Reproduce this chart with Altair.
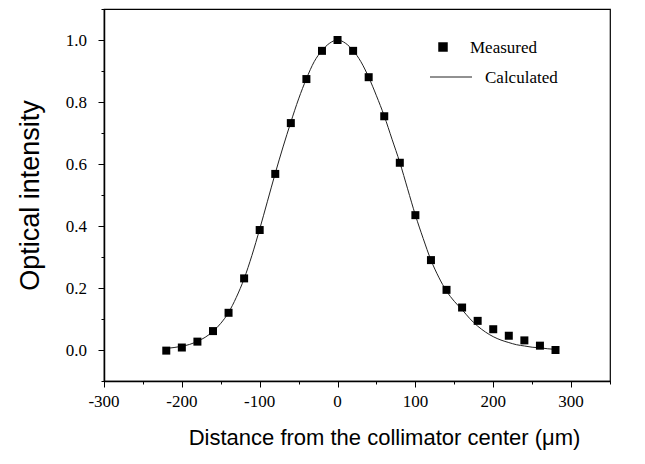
import altair as alt
import pandas as pd

# Measured points
meas_x = [-220, -200, -180, -160, -140, -120, -100, -80, -60, -40, -20, 0,
          20, 40, 60, 80, 100, 120, 140, 160, 180, 200, 220, 240, 260, 280]
meas_y = [-0.002, 0.008, 0.027, 0.061, 0.12, 0.231, 0.387, 0.568, 0.732, 0.874, 0.965, 1.0,
          0.965, 0.88, 0.754, 0.604, 0.435, 0.29, 0.194, 0.137, 0.094, 0.067, 0.046, 0.031, 0.014, 0.0]

# Calculated curve
calc_x = [-220, -210, -200, -190, -180, -170, -160, -150, -140, -130, -120, -110, -100,
          -90, -80, -70, -60, -50, -40, -30, -20, -10, 0, 10, 20, 30, 40, 50, 60, 70,
          80, 90, 100, 110, 120, 130, 140, 150, 160, 170, 180, 190, 200, 210, 220, 230,
          240, 250, 260, 270, 280]
calc_y = [0.005, 0.008, 0.012, 0.018, 0.028, 0.041, 0.06, 0.086, 0.121, 0.17, 0.23, 0.305, 0.39,
          0.48, 0.57, 0.655, 0.735, 0.81, 0.875, 0.93, 0.966, 0.99, 1.0, 0.99, 0.966, 0.93, 0.88, 0.82,
          0.755, 0.68, 0.605, 0.52, 0.435, 0.36, 0.29, 0.235, 0.19, 0.157, 0.13, 0.101, 0.077, 0.058,
          0.043, 0.032, 0.024, 0.017, 0.013, 0.009, 0.007, 0.004, 0.002]

x_major = [-300, -200, -100, 0, 100, 200, 300]
x_labels = ["-300", "-200", "-100", "0", "100", "200", "300"]
x_minor = [-300, -250, -200, -150, -100, -50, 0, 50, 100, 150, 200, 250, 300, 350]
y_major = [0.0, 0.2, 0.4, 0.6, 0.8, 1.0]
y_labels = ["0.0", "0.2", "0.4", "0.6", "0.8", "1.0"]
y_minor = [-0.1, 0.0, 0.1, 0.2, 0.3, 0.4, 0.5, 0.6, 0.7, 0.8, 0.9, 1.0, 1.1]

legend_labels = ["Measured", "Calculated"]

meas = pd.DataFrame({"x": meas_x, "y": meas_y})
calc = pd.DataFrame({"x": calc_x, "y": calc_y})
xlab = pd.DataFrame({"v": x_major, "t": x_labels})
ylab = pd.DataFrame({"v": y_major, "t": y_labels})

xscale = alt.Scale(domain=[-300, 350], nice=False, zero=False)
yscale = alt.Scale(domain=[-0.1, 1.1], nice=False, zero=False)

serif = "Liberation Serif"
sans = "Liberation Sans"

xaxis = alt.Axis(
    orient="bottom",
    values=x_major, tickSize=6, labels=False,
    grid=False, domainColor="black", domainWidth=1.5, tickColor="black", tickWidth=1,
    title="Distance from the collimator center (\u03bcm)",
    titleFont=sans, titleFontSize=22, titleFontWeight="normal", titleColor="black",
    titleX=280, titleY=63, titleAlign="center", titleBaseline="alphabetic", titleAnchor="start",
)
yaxis = alt.Axis(
    orient="left",
    values=y_major, tickSize=6, labels=False,
    grid=False, domainColor="black", domainWidth=1.5, tickColor="black", tickWidth=1,
    title="Optical intensity",
    titleFont=sans, titleFontSize=27, titleFontWeight="normal", titleColor="black",
    titleX=-74, titleY=186, titleAlign="center", titleBaseline="middle", titleAngle=270,
    titleAnchor="start",
)
xaxis_minor = alt.Axis(orient="bottom", values=x_minor, tickSize=3, labels=False, domain=False,
                       grid=False, tickColor="black", tickWidth=1, title=None)
yaxis_minor = alt.Axis(orient="left", values=y_minor, tickSize=3, labels=False, domain=False,
                       grid=False, tickColor="black", tickWidth=1, title=None)

line = alt.Chart(calc).mark_line(color="#222222", strokeWidth=1, interpolate="monotone").encode(
    x=alt.X("x:Q", scale=xscale, axis=xaxis),
    y=alt.Y("y:Q", scale=yscale, axis=yaxis),
)
pts = alt.Chart(meas).mark_square(color="black", filled=True, size=64, opacity=1).encode(
    x=alt.X("x:Q", scale=xscale, axis=xaxis_minor),
    y=alt.Y("y:Q", scale=yscale, axis=yaxis_minor),
)

# tick labels drawn as serif text through the same scales
xtext = alt.Chart(xlab).mark_text(
    font=serif, fontSize=17, color="black", align="center", baseline="alphabetic"
).encode(x=alt.X("v:Q", scale=xscale, axis=None), y=alt.value(398), text="t:N")
ytext = alt.Chart(ylab).mark_text(
    font=serif, fontSize=17, color="black", align="right", baseline="middle", dy=1
).encode(y=alt.Y("v:Q", scale=yscale, axis=None), x=alt.value(-17), text="t:N")

leg_sq = alt.Chart(pd.DataFrame({"label": [legend_labels[0]]})).mark_square(
    color="black", filled=True, size=90, opacity=1
).encode(x=alt.value(339), y=alt.value(38))
leg_line = alt.Chart(pd.DataFrame({"label": [legend_labels[1]]})).mark_rule(
    color="#222222", strokeWidth=1
).encode(x=alt.value(326), x2=alt.value(368), y=alt.value(68))
leg_t1 = alt.Chart(pd.DataFrame({"label": [legend_labels[0]]})).mark_text(
    align="left", baseline="alphabetic", font=serif, fontSize=17, color="black"
).encode(x=alt.value(366), y=alt.value(44), text="label:N")
leg_t2 = alt.Chart(pd.DataFrame({"label": [legend_labels[1]]})).mark_text(
    align="left", baseline="alphabetic", font=serif, fontSize=17, color="black"
).encode(x=alt.value(381), y=alt.value(74), text="label:N")

chart = alt.layer(line, pts, xtext, ytext, leg_sq, leg_line, leg_t1, leg_t2).resolve_scale(
    x="independent", y="independent"
).properties(
    width=506, height=372,
    autosize=alt.AutoSizeParams(type="none"),
    padding={"left": 96, "top": 1, "right": 27, "bottom": 75},
).configure(
    background="white",
).configure_view(stroke="black", strokeWidth=1.2)

chart.save("out.html", embed_options={"renderer": "svg", "actions": False})
